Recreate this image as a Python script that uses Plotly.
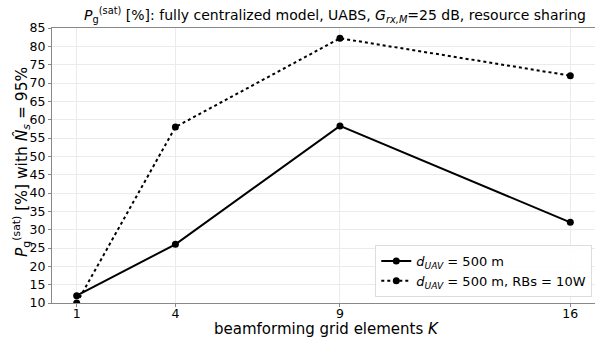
import plotly.graph_objects as go

K = [1, 4, 9, 16]
p_500 = [12, 26, 58.3, 32]
p_500_rbs10w = [10, 58, 82.2, 72]
yticks = list(range(10, 90, 5))

fig = go.Figure()
fig.add_trace(go.Scatter(x=K, y=p_500, mode="lines+markers",
                         name="<i>d</i><sub><i>UAV</i></sub> = 500 m",
                         line=dict(color="black", width=2),
                         marker=dict(color="black", size=7)))
fig.add_trace(go.Scatter(x=K, y=p_500_rbs10w, mode="lines+markers",
                         name="<i>d</i><sub><i>UAV</i></sub> = 500 m, RBs = 10W",
                         line=dict(color="black", width=2, dash="dot"),
                         marker=dict(color="black", size=7)))

font = "DejaVu Sans"
L, R, T, B = 52, 0, 28, 34
W, H = 595, 337
pw, ph = W - L - R, H - T - B

fig.update_layout(
    width=W, height=H,
    margin=dict(l=L, r=R, t=T, b=B, autoexpand=False),
    paper_bgcolor="white", plot_bgcolor="white",
    font=dict(family=font, color="black", size=13),
    title=dict(text="<i>P</i><sub>g</sub><sup>(sat)</sup> [%]: fully centralized model, UABS, <i>G</i><sub><i>rx,M</i></sub>=25 dB, resource sharing",
               x=335 / W, xanchor="center", y=1 - 15 / H, yanchor="middle", font=dict(size=14)),
    xaxis=dict(range=[0.25, 16.75], tickvals=K, ticktext=[str(k) for k in K],
               showgrid=True, gridcolor="#ebebeb", gridwidth=1,
               showline=True, linecolor="#888", linewidth=1, mirror=True,
               ticks="outside", ticklen=3, tickcolor="#888", zeroline=False,
               ticklabelstandoff=-4,
               automargin=False, tickfont=dict(size=12.5)),
    yaxis=dict(range=[10, 85], tickvals=yticks,
               showgrid=True, gridcolor="#ebebeb", gridwidth=1,
               showline=True, linecolor="#888", linewidth=1, mirror=True,
               ticks="outside", ticklen=3, tickcolor="#888", zeroline=False,
               automargin=False, tickfont=dict(size=12.5)),
    legend=dict(x=0.995, y=0.022, xanchor="right", yanchor="bottom",
                bgcolor="rgba(255,255,255,0.9)", bordercolor="#dddddd", borderwidth=1,
                font=dict(size=13), itemwidth=30),
    showlegend=True,
    annotations=[
        dict(text="beamforming grid elements <i>K</i>", xref="paper", yref="paper",
             x=(326 - L) / pw, y=-(329 - (T + ph)) / ph, xanchor="center", yanchor="middle",
             showarrow=False, font=dict(size=15)),
        dict(text="<i>P</i><sub>g</sub><sup>(sat)</sup> [%] with <i>N̂</i><sub><i>s</i></sub> = 95%",
             xref="paper", yref="paper", x=(21 - L) / pw, y=(T + ph - 162) / ph,
             xanchor="center", yanchor="middle", textangle=-90,
             showarrow=False, font=dict(size=15.5)),
    ],
)
fig.write_html("out.html", config={"displayModeBar": False},
               post_script="document.body.style.margin='0';document.body.style.padding='0';")
